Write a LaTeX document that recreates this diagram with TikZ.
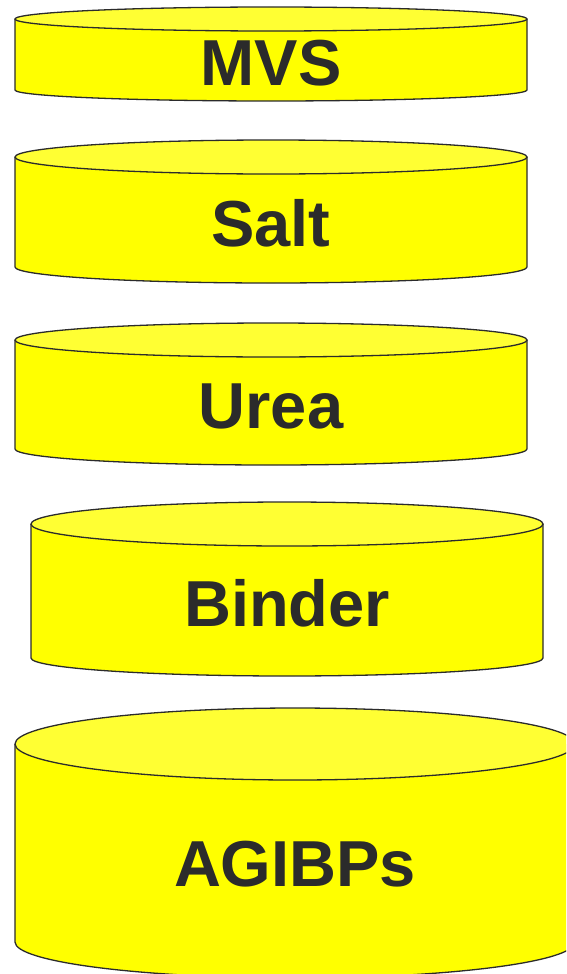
\documentclass[tikz,border=0pt]{standalone}
\usepackage{fontspec}
\setmainfont{Liberation Sans}
\usepackage{xcolor}

\begin{document}
\begin{tikzpicture}[x=1pt,y=-1pt,
    disklabel/.style={font=\bfseries\fontsize{65}{65}\selectfont, text=inkgray,
      inner sep=0pt, anchor=base}]
    % Define disk colors
    \definecolor{diskbody}{RGB}{255, 255, 0}
    \definecolor{disktop}{RGB}{255, 255, 51}
    \definecolor{inkgray}{RGB}{43, 43, 43}

    \useasboundingbox (0,0) rectangle (566,974);
    \clip (0,0) rectangle (566,974);

    % Draw the stacked disks: centre x, top y, bottom y, radii, label baseline
    \foreach \cx/\yt/\yb/\rx/\ryt/\ryb/\ty/\lbl/\nm in {
        271/19/90/256/12/11/85/MVS/mvs,
        271/157/267/256/17/16/246/Salt/salt,
        271/340/449/256/17/16/428/Urea/urea,
        287/524/658/256/22/18/626/Binder/binder,
        295/744/942/280/36/36/886/AGIBPs/agibps} {
        % body of the disk
        \fill[diskbody] (\cx-\rx,\yt) -- (\cx-\rx,\yb)
            arc[start angle=180, end angle=0, x radius=\rx, y radius=\ryb]
            -- (\cx+\rx,\yt) -- cycle;
        \draw[inkgray, line width=1.3pt, line join=round] (\cx-\rx,\yt) -- (\cx-\rx,\yb)
            arc[start angle=180, end angle=0, x radius=\rx, y radius=\ryb]
            -- (\cx+\rx,\yt);
        % lid of the disk
        \filldraw[fill=disktop, draw=inkgray, line width=1.3pt]
            (\cx,\yt) ellipse[x radius=\rx, y radius=\ryt];
        \node[disklabel] (\nm) at (\cx,\ty) {\lbl};
    }
\end{tikzpicture}
\end{document}
